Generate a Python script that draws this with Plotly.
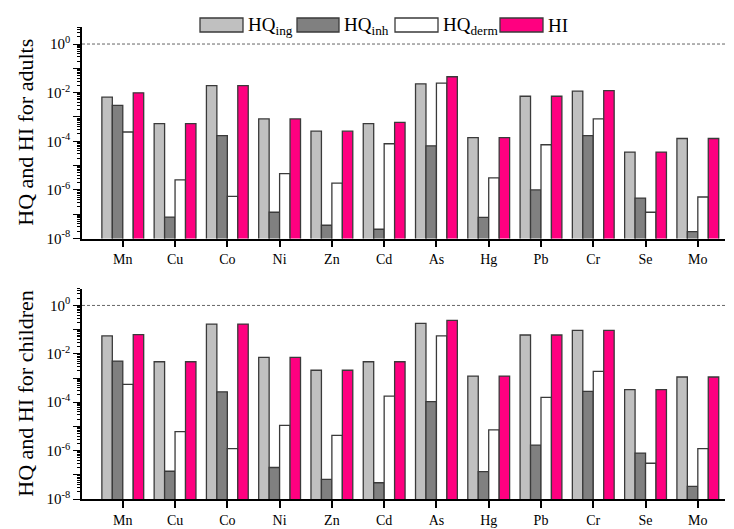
import plotly.graph_objects as go

# Hazard quotients (HQ) by exposure pathway and hazard index (HI)
elements = ["Mn", "Cu", "Co", "Ni", "Zn", "Cd", "As", "Hg", "Pb", "Cr", "Se", "Mo"]

adult_ing = [6.5e-3, 5.3e-4, 1.96e-2, 8.3e-4, 2.6e-4, 5.3e-4, 2.3e-2, 1.4e-4, 7.1e-3, 1.15e-2, 3.6e-5, 1.3e-4]
adult_inh = [3.0e-3, 7.6e-8, 1.7e-4, 1.2e-7, 3.5e-8, 2.4e-8, 6.5e-5, 7.4e-8, 1.0e-6, 1.7e-4, 4.6e-7, 1.9e-8]
adult_derm = [2.4e-4, 2.6e-6, 5.4e-7, 4.7e-6, 1.9e-6, 7.9e-5, 2.45e-2, 3.1e-6, 7.2e-5, 8.3e-4, 1.2e-7, 5.1e-7]
adult_hi = [9.8e-3, 5.3e-4, 1.96e-2, 8.3e-4, 2.6e-4, 6.0e-4, 4.5e-2, 1.4e-4, 7.1e-3, 1.22e-2, 3.6e-5, 1.3e-4]

child_ing = [5.5e-2, 4.7e-3, 1.7e-1, 7.2e-3, 2.1e-3, 4.7e-3, 1.8e-1, 1.2e-3, 6.0e-2, 9.3e-2, 3.3e-4, 1.1e-3]
child_inh = [5.0e-3, 1.4e-7, 2.7e-4, 2.0e-7, 6.5e-8, 4.7e-8, 1.05e-4, 1.35e-7, 1.7e-6, 2.8e-4, 7.9e-7, 3.3e-8]
child_derm = [5.5e-4, 6.1e-6, 1.2e-6, 1.1e-5, 4.3e-6, 1.8e-4, 5.5e-2, 7.2e-6, 1.6e-4, 1.9e-3, 3.0e-7, 1.2e-6]
child_hi = [6.2e-2, 4.7e-3, 1.7e-1, 7.2e-3, 2.1e-3, 4.7e-3, 2.4e-1, 1.2e-3, 6.0e-2, 9.3e-2, 3.3e-4, 1.1e-3]

series_names = ["HQ<sub>ing</sub>", "HQ<sub>inh</sub>", "HQ<sub>derm</sub>", "HI"]
series_colors = ["#C0C0C0", "#808080", "#FFFFFF", "#FF0080"]

panels = [
    ("y", "HQ and HI for adults", [adult_ing, adult_inh, adult_derm, adult_hi]),
    ("y2", "HQ and HI for children", [child_ing, child_inh, child_derm, child_hi]),
]

FONT = "Liberation Serif"
W, H = 734, 529
ML, MR, MT, MB = 82, 9, 27, 30
PW, PH = W - ML - MR, H - MT - MB
TOP_PANEL = (27, 238.5)
BOTTOM_PANEL = (288.5, 499)


def px_x(x):
    return (x - ML) / PW


def px_y(y):
    return (H - MB - y) / PH


fig = go.Figure()
for yref, _, series in panels:
    xref = "x" if yref == "y" else "x2"
    for name, color, vals in zip(series_names, series_colors, series):
        fig.add_trace(go.Bar(
            x=elements, y=vals, name=name, xaxis=xref, yaxis=yref,
            marker=dict(color=color, line=dict(color="#3a3a3a", width=1.3)),
            showlegend=False,
        ))

major = [10.0 ** k for k in range(-8, 1)]
major_text = [f"10<sup>{k}</sup>" if k % 2 == 0 else "" for k in range(-8, 1)]
minor = [m * 10.0 ** k for k in range(-8, 1) for m in range(2, 10)]

yaxis_style = dict(
    type="log", range=[-8, 0.7], tickmode="array", tickvals=major, ticktext=major_text,
    ticks="outside", ticklen=7, tickwidth=1.3, tickcolor="black",
    minor=dict(tickmode="array", tickvals=minor, ticks="outside", ticklen=3.5,
               tickwidth=1, tickcolor="black"),
    showline=True, linecolor="black", linewidth=1.5, showgrid=False, zeroline=False,
    tickfont=dict(family=FONT, size=15, color="black"), automargin=False,
)
xaxis_style = dict(
    type="category", range=[-0.78, 11.52], ticks="outside", ticklen=7, tickwidth=1.5,
    tickcolor="black", showline=True, linecolor="black", linewidth=1.5,
    showgrid=False, zeroline=False, tickfont=dict(family=FONT, size=14, color="black"),
    automargin=False,
)

top_low = px_y(TOP_PANEL[1])
bot_high = px_y(BOTTOM_PANEL[0])

fig.update_layout(
    width=W, height=H, margin=dict(l=ML, r=MR, t=MT, b=MB, autoexpand=False),
    paper_bgcolor="white", plot_bgcolor="white",
    barmode="group", bargap=0.2, bargroupgap=0,
    font=dict(family=FONT, color="black"),
    xaxis=dict(**xaxis_style, domain=[0, 1], anchor="y"),
    yaxis=dict(**yaxis_style, domain=[top_low, 1], anchor="x"),
    xaxis2=dict(**xaxis_style, domain=[0, 1], anchor="y2"),
    yaxis2=dict(**yaxis_style, domain=[0, bot_high], anchor="x2"),
)

# Reference level HQ = HI = 1
for xr in ("x", "x2"):
    yr = "y" if xr == "x" else "y2"
    fig.add_shape(type="line", xref=f"{xr} domain", yref=yr, x0=0, x1=1, y0=1, y1=1,
                  line=dict(color="#666666", width=1, dash="3px,2px"))

# Panel titles on the y axes
for (yref, title, _), (y0, y1) in zip(panels, [TOP_PANEL, BOTTOM_PANEL]):
    fig.add_annotation(text=title, xref="paper", yref="paper",
                       x=px_x(26), y=px_y((y0 + y1) / 2), textangle=-90,
                       xanchor="center", yanchor="middle",
                       showarrow=False, font=dict(family=FONT, size=22, color="black"))

# Legend with wide swatches
legend_boxes = [(200, 243), (297, 339), (395, 438), (500, 543)]
for (x0, x1), name, color in zip(legend_boxes, series_names, series_colors):
    fig.add_shape(type="rect", xref="paper", yref="paper",
                  x0=px_x(x0), x1=px_x(x1), y0=px_y(32), y1=px_y(18),
                  fillcolor=color, line=dict(color="#3a3a3a", width=1.3))
    fig.add_annotation(text=name, xref="paper", yref="paper",
                       x=px_x(x1 + 3), y=px_y(26), xanchor="left", yanchor="middle",
                       showarrow=False, font=dict(family=FONT, size=19, color="black"))

fig.write_html("out.html")
